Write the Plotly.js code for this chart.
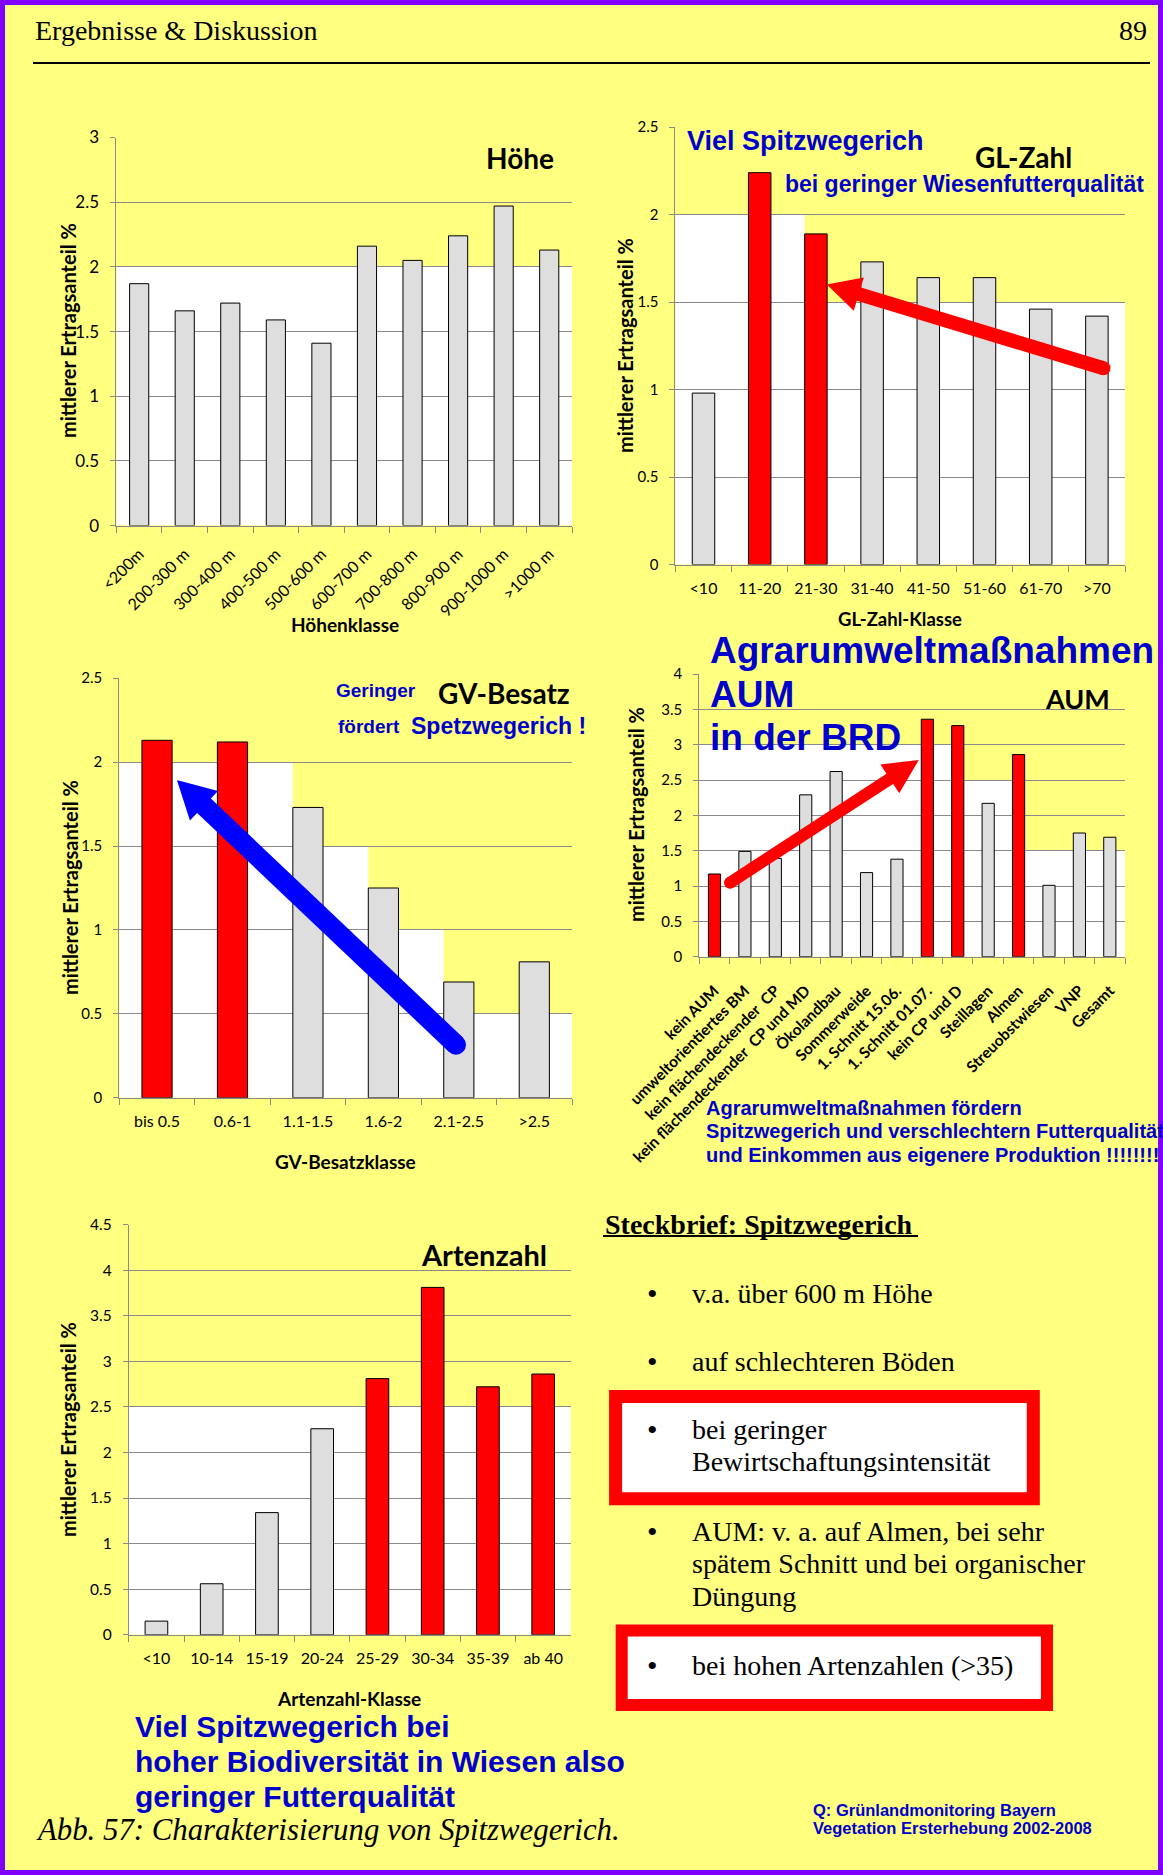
<!DOCTYPE html>
<html><head><meta charset="utf-8">
<script src="https://cdn.plot.ly/plotly-3.0.1.min.js"></script>
<style>html,body{margin:0;padding:0;background:#FFFF80;}#chart{width:1163px;height:1875px;}</style>
</head><body><div id="chart"></div>
<script>
// ---------------- DATA ----------------
const hoeheCategories = ['<200m','200-300 m','300-400 m','400-500 m','500-600 m','600-700 m','700-800 m','800-900 m','900-1000 m','>1000 m'];
const hoeheValues     = [1.87, 1.66, 1.72, 1.59, 1.41, 2.16, 2.05, 2.24, 2.47, 2.13];
const hoeheHighlight  = [0,0,0,0,0,0,0,0,0,0];

const glCategories = ['<10','11-20','21-30','31-40','41-50','51-60','61-70','>70'];
const glValues     = [0.98, 2.24, 1.89, 1.73, 1.64, 1.64, 1.46, 1.42];
const glHighlight  = [0,1,1,0,0,0,0,0];

const gvCategories = ['bis 0.5','0.6-1','1.1-1.5','1.6-2','2.1-2.5','>2.5'];
const gvValues     = [2.13, 2.12, 1.73, 1.25, 0.69, 0.81];
const gvHighlight  = [1,1,0,0,0,0];

const aumCategories = ['kein AUM','umweltorientiertes BM','kein flächendeckender  CP','kein flächendeckender  CP und MD','Ökolandbau','Sommerweide','1. Schnitt 15.06.','1. Schnitt 01.07.','kein CP und D','Steillagen','Almen','Streuobstwiesen','VNP','Gesamt'];
const aumValues     = [1.17, 1.49, 1.39, 2.29, 2.62, 1.19, 1.38, 3.36, 3.27, 2.17, 2.86, 1.01, 1.75, 1.69];
const aumHighlight  = [1,0,0,0,0,0,0,1,1,0,1,0,0,0];

const artenCategories = ['<10','10-14','15-19','20-24','25-29','30-34','35-39','ab 40'];
const artenValues     = [0.15, 0.56, 1.34, 2.26, 2.81, 3.81, 2.72, 2.86];
const artenHighlight  = [0,0,0,0,1,1,1,1];

// ---------------- STYLE / LAYOUT ----------------
const W = 1163, H = 1875;
const YELLOW = '#FFFF80', RED = '#FF0000', GRAY = '#DEDEDE', GRID = '#8a8a8a', BLUE = '#0000CC', PURPLE = '#8000FF';
const SANS = 'Lato, "Open Sans", sans-serif';
const ARIAL = '"Liberation Sans", Arial, sans-serif';
const SERIF = '"Liberation Serif", "Times New Roman", serif';
const px = x => x / W, py = y => 1 - y / H;

function yAx(top, bottom, max, anchor, size) {
  return {domain:[py(bottom), py(top)], range:[0, max], tick0:0, dtick:0.5, anchor,
    showgrid:true, gridcolor:GRID, gridwidth:1, zeroline:false,
    showline:true, linecolor:GRID, linewidth:1, ticks:'outside', ticklen:5, tickcolor:GRID,
    tickfont:{family:SANS, size:size, color:'#000'}, ticklabelstandoff:8, fixedrange:true};
}
function xAx(left, right, anchor, angle, bold, size, standoff) {
  return {domain:[px(left), px(right)], type:'category', anchor,
    showgrid:false, zeroline:false, showline:true, linecolor:GRID, linewidth:1,
    ticks:'outside', tickson:'boundaries', ticklen:6, tickcolor:GRID, tickangle:angle,
    tickfont:{family:SANS, size:size, color:'#000', weight: bold ? 'bold' : 'normal'},
    ticklabelstandoff: standoff, fixedrange:true};
}
function bars(cats, vals, hl, xa, ya, w) {
  return {type:'bar', x:cats, y:vals, xaxis:xa, yaxis:ya, width:w,
    marker:{color: hl.map(h => h ? RED : GRAY), line:{color:'#000', width:1}},
    hoverinfo:'skip', showlegend:false};
}

const data = [
  bars(hoeheCategories, hoeheValues, hoeheHighlight, 'x', 'y', 0.42),
  bars(glCategories, glValues, glHighlight, 'x2', 'y2', 0.4),
  bars(gvCategories, gvValues, gvHighlight, 'x3', 'y3', 0.4),
  bars(aumCategories, aumValues, aumHighlight, 'x4', 'y4', 0.4),
  bars(artenCategories, artenValues, artenHighlight, 'x5', 'y5', 0.41)
];

// white (unfilled) parts of each plot area
const bands = [
  ['x','y',-0.5,9.5,0,2],
  ['x2','y2',-0.5,7.5,0,1.5], ['x2','y2',-0.5,1.8,1.5,2],
  ['x3','y3',-0.5,5.5,0,0.5], ['x3','y3',-0.5,3.8,0.5,1], ['x3','y3',-0.5,2.8,1,1.5], ['x3','y3',-0.5,1.8,1.5,2],
  ['x4','y4',-0.5,13.5,0,1.5], ['x4','y4',-0.5,9.8,1.5,2.5], ['x4','y4',-0.5,7.8,2.5,3],
  ['x5','y5',-0.5,7.5,0,2.5]
];
const shapes = bands.map(b => ({type:'rect', xref:b[0], yref:b[1], x0:b[2], x1:b[3], y0:b[4], y1:b[5],
  fillcolor:'#FFFFFF', line:{width:0}, layer:'below'}));

function arrow(x1, y1, x2, y2, w, headLen, headHalf, color) {
  const dx = x2 - x1, dy = y2 - y1, L = Math.hypot(dx, dy), ux = dx / L, uy = dy / L;
  const bx = x2 - ux * headLen, by = y2 - uy * headLen, nx = -uy, ny = ux;
  const c1 = [bx + nx * headHalf, by + ny * headHalf], c2 = [bx - nx * headHalf, by - ny * headHalf];
  const r = w / 2;
  return [
    {type:'line', xref:'paper', yref:'paper', x0:px(x1), y0:py(y1), x1:px(bx + ux * 3), y1:py(by + uy * 3), line:{color, width:w}},
    {type:'circle', xref:'paper', yref:'paper', x0:px(x1 - r), x1:px(x1 + r), y0:py(y1 + r), y1:py(y1 - r), fillcolor:color, line:{width:0}},
    {type:'path', xref:'paper', yref:'paper', path:`M${px(x2)},${py(y2)} L${px(c1[0])},${py(c1[1])} L${px(c2[0])},${py(c2[1])} Z`,
      fillcolor:color, line:{color, width:4}}
  ];
}
shapes.push(...arrow(1103.5, 368.3, 831, 285.7, 14, 27, 14, RED));
shapes.push(...arrow(456, 1044.7, 180, 783, 20, 31, 17, '#0000FF'));
shapes.push(...arrow(730, 882.7, 915, 762.5, 12, 28, 14, RED));

// page frame, header rule, boxes, underline
shapes.push({type:'line', xref:'paper', yref:'paper', x0:px(33), x1:px(1150), y0:py(63), y1:py(63), line:{color:'#000', width:2}});
shapes.push({type:'rect', xref:'paper', yref:'paper', x0:px(615.6), x1:px(1033.3), y0:py(1498.8), y1:py(1396.6), fillcolor:'#FFFFFF', line:{color:RED, width:13}});
shapes.push({type:'rect', xref:'paper', yref:'paper', x0:px(621.7), x1:px(1047), y0:py(1704.9), y1:py(1630.6), fillcolor:'#FFFFFF', line:{color:RED, width:12}});
shapes.push({type:'line', xref:'paper', yref:'paper', x0:px(603), x1:px(918), y0:py(1236), y1:py(1236), line:{color:'#000', width:2}});
shapes.push({type:'rect', xref:'paper', yref:'paper', x0:0, x1:1, y0:0, y1:1, line:{color:PURPLE, width:10}});

function t(text, x, y, size, color, family, opts) {
  return Object.assign({xref:'paper', yref:'paper', x:px(x), y:py(y), xanchor:'left', yanchor:'middle',
    showarrow:false, text, font:{family, size, color}}, opts || {});
}
const C = {xanchor:'center'};
const V = {xanchor:'center', textangle:-90};
const YT = '<b>mittlerer Ertragsanteil %</b>';
const annotations = [
  t('Ergebnisse &amp; Diskussion', 33, 31, 28, '#000', SERIF),
  t('89', 1149, 31, 28, '#000', SERIF, {xanchor:'right'}),
  // chart labels
  t('<b>Höhe</b>', 484, 158, 28, '#000', SANS),
  t('<b>GL-Zahl</b>', 973, 156.5, 28, '#000', SANS),
  t('<b>GV-Besatz</b>', 436, 693, 28, '#000', SANS),
  t('<b>AUM</b>', 1043, 698, 27, '#000', SANS),
  t('<b>Artenzahl</b>', 419, 1254, 29, '#000', SANS),
  // axis titles
  t(YT, 68, 331, 20, '#000', SANS, V),
  t(YT, 625, 346, 20, '#000', SANS, V),
  t(YT, 70, 888, 20, '#000', SANS, V),
  t(YT, 636, 815, 20, '#000', SANS, V),
  t(YT, 68, 1430, 20, '#000', SANS, V),
  t('<b>Höhenklasse</b>', 345, 624, 19, '#000', SANS, C),
  t('<b>GL-Zahl-Klasse</b>', 900, 618.5, 18.5, '#000', SANS, C),
  t('<b>GV-Besatzklasse</b>', 345, 1161.5, 19, '#000', SANS, C),
  t('<b>Artenzahl-Klasse</b>', 349, 1698.5, 19, '#000', SANS, C),
  // blue comments
  t('<b>Viel Spitzwegerich</b>', 685, 141, 27, BLUE, ARIAL),
  t('<b>bei geringer Wiesenfutterqualität</b>', 783, 184, 23, BLUE, ARIAL),
  t('<b>Geringer</b>', 334, 690.7, 19, BLUE, ARIAL),
  t('<b>fördert</b>', 336, 726, 19, BLUE, ARIAL),
  t('<b>Spetzwegerich !</b>', 409, 726, 23, BLUE, ARIAL),
  t('<b>Agrarumweltmaßnahmen</b>', 708, 650.5, 37, BLUE, ARIAL),
  t('<b>AUM</b>', 708, 694, 37, BLUE, ARIAL),
  t('<b>in der BRD</b>', 708, 737.3, 37, BLUE, ARIAL),
  t('<b>Agrarumweltmaßnahmen fördern</b>', 704, 1107.6, 20, BLUE, ARIAL),
  t('<b>Spitzwegerich und verschlechtern Futterqualität</b>', 704, 1130.7, 20, BLUE, ARIAL),
  t('<b>und Einkommen aus eigenere Produktion !!!!!!!!</b>', 704, 1154.8, 20, BLUE, ARIAL),
  t('<b>Viel Spitzwegerich bei</b>', 132.6, 1726, 30, BLUE, ARIAL),
  t('<b>hoher Biodiversität in Wiesen also</b>', 132.6, 1761.8, 30, BLUE, ARIAL),
  t('<b>geringer Futterqualität</b>', 132.6, 1796.2, 30, BLUE, ARIAL),
  t('<b>Q: Grünlandmonitoring Bayern</b>', 811, 1809.5, 16.5, BLUE, ARIAL),
  t('<b>Vegetation Ersterhebung 2002-2008</b>', 811, 1827.8, 16.5, BLUE, ARIAL),
  t('<i>Abb. 57: Charakterisierung von Spitzwegerich.</i>', 34, 1830, 30.8, '#000', SERIF),
  // Steckbrief
  t('<b>Steckbrief: Spitzwegerich</b>', 603, 1224, 28, '#000', SERIF),
  t('•', 652, 1293.5, 30, '#000', SERIF, C), t('v.a. über 600 m Höhe', 690, 1293.5, 28, '#000', SERIF),
  t('•', 652, 1361, 30, '#000', SERIF, C), t('auf schlechteren Böden', 690, 1361, 28, '#000', SERIF),
  t('•', 652, 1429, 30, '#000', SERIF, C), t('bei geringer', 690, 1429, 28, '#000', SERIF),
  t('Bewirtschaftungsintensität', 690, 1461.7, 28, '#000', SERIF),
  t('•', 652, 1531.6, 30, '#000', SERIF, C), t('AUM: v. a. auf Almen, bei sehr', 690, 1531.6, 28, '#000', SERIF),
  t('spätem Schnitt und bei organischer', 690, 1563.5, 28, '#000', SERIF),
  t('Düngung', 690, 1596.3, 28, '#000', SERIF),
  t('•', 652, 1665, 30, '#000', SERIF, C), t('bei hohen Artenzahlen (&gt;35)', 690, 1665, 28, '#000', SERIF)
];

const layout = {
  width:W, height:H, margin:{l:0, r:0, t:0, b:0, pad:0},
  paper_bgcolor:YELLOW, plot_bgcolor:'rgba(0,0,0,0)', showlegend:false,
  font:{family:SANS, color:'#000'},
  xaxis:  xAx(116.4, 572, 'y', -45, false, 16, 12),
  yaxis:  yAx(137.5, 525.6, 3, 'x', 17),
  xaxis2: xAx(675.4, 1125, 'y2', 0, false, 16, 9),
  yaxis2: yAx(127.2, 564.5, 2.5, 'x2', 15),
  xaxis3: xAx(119.3, 572, 'y3', 0, false, 16, 9),
  yaxis3: yAx(678.2, 1097.8, 2.5, 'x3', 15),
  xaxis4: xAx(699.3, 1125, 'y4', -45, true, 15.5, 18),
  yaxis4: yAx(674, 956.7, 4, 'x4', 15),
  xaxis5: xAx(128.8, 570.8, 'y5', 0, false, 16, 9),
  yaxis5: yAx(1224.5, 1634.8, 4.5, 'x5', 15.5),
  shapes, annotations
};
Plotly.newPlot('chart', data, layout, {staticPlot:true, displayModeBar:false});
</script></body></html>
